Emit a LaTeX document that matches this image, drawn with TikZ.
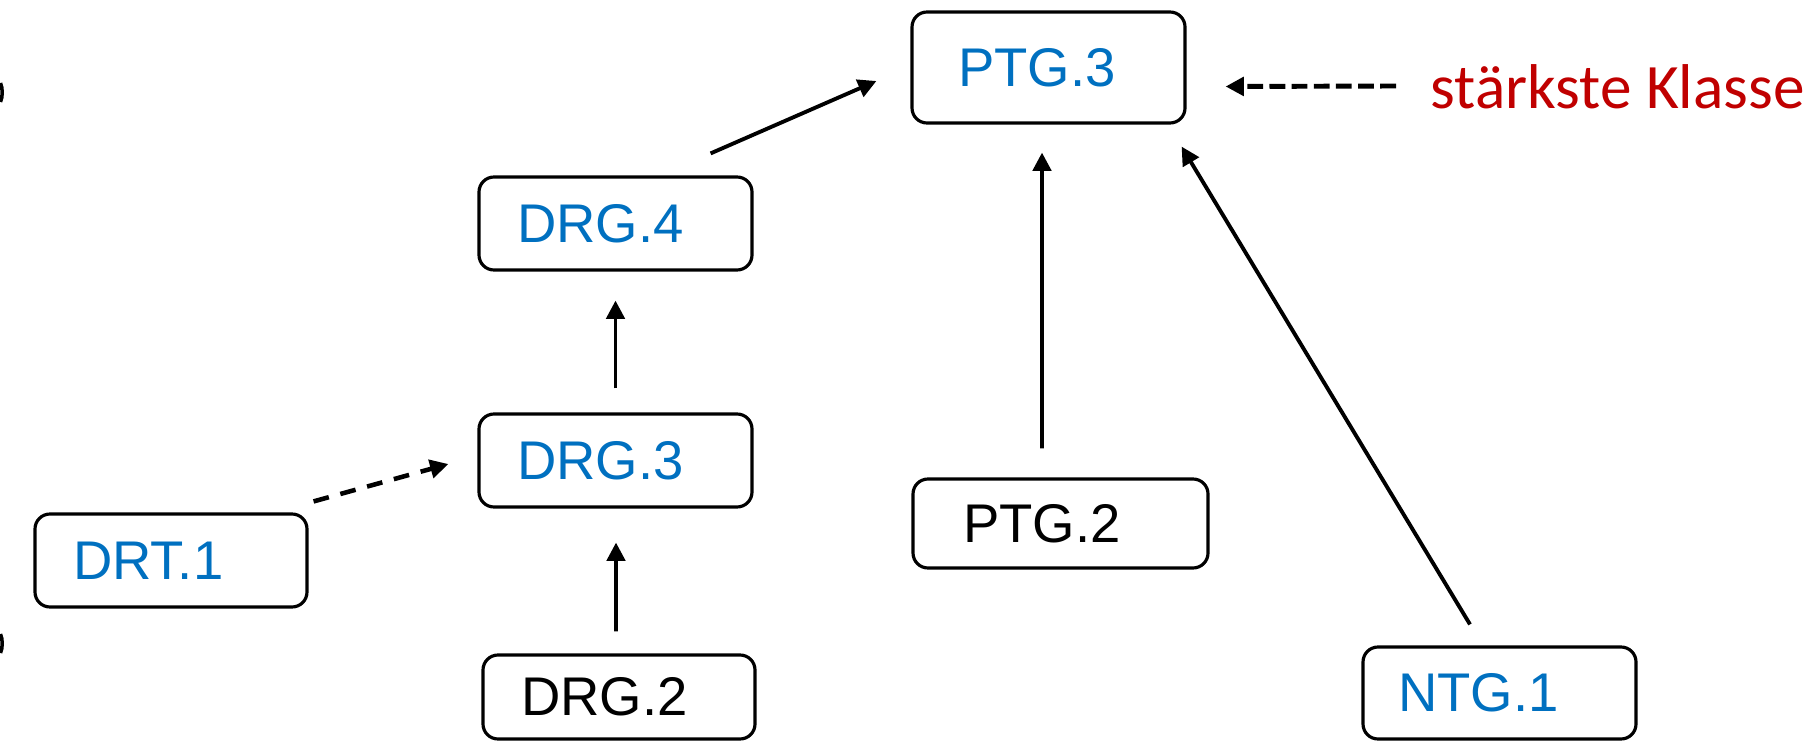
\documentclass[tikz,border=0pt]{standalone}
\usepackage{fontspec}
\setmainfont{Liberation Sans}
\newfontfamily\calibrifont{Carlito}
\usetikzlibrary{arrows.meta,positioning}

\begin{document}
\begin{tikzpicture}
\definecolor{klasseBlau}{RGB}{0, 112, 192}
			\definecolor{klasseRot}{RGB}{192, 0, 0}
			\tikzstyle{klasse}=[rectangle, rounded corners=0.15cm, draw, line width=0.9pt, minimum width=2.73cm, minimum height=0.93cm, inner xsep=0.38cm, text width=1.97cm, align=left, font=\fontsize{15.5}{18}\selectfont, text=klasseBlau]
			\tikzstyle{pfeil}=[-{Triangle[length=5.2pt, width=5.2pt]}, line width=1.1pt]

			\useasboundingbox (0,0) rectangle (18.19,7.5);

			\node [klasse, minimum height=1.11cm, inner xsep=0.46cm, text width=1.81cm] (PTG3) at (10.485,6.825) {PTG.3};
			\node [klasse] (DRG4) at (6.155,5.265) {DRG.4};
			\node [klasse] (DRG3) at (6.155,2.895) {DRG.3};
			\node [klasse, minimum width=2.72cm, text width=1.96cm] (DRT1) at (1.71,1.895) {DRT.1};
			\node [klasse, minimum width=2.72cm, minimum height=0.84cm, text width=1.96cm, text=black] (DRG2) at (6.19,0.53) {DRG.2};
			\node [klasse, minimum width=2.95cm, minimum height=0.89cm, inner xsep=0.5cm, text width=1.95cm, text=black] (PTG2) at (10.605,2.265) {PTG.2};
			\node [klasse, minimum height=0.92cm, inner xsep=0.35cm, text width=2.03cm] (NTG1) at (14.995,0.57) {NTG.1};

			\node [anchor=west, inner sep=0pt, text=klasseRot, font=\calibrifont\fontsize{18}{21}\selectfont] (staerkste) at (14.30,6.63) {stärkste Klasse};

			\path[pfeil]
			([shift={(-0.43,0.22)}]DRG4.north east) edge ([shift={(-0.34,-0.135)}]PTG3.west)
			([shift={(0,0.24)}]DRG3.north) edge ([shift={(0,-0.29)}]DRG4.south)
			([shift={(-0.03,0.22)}]DRG2.north) edge ([shift={(0.005,-0.34)}]DRG3.south)
			([shift={(0.05,0.11)}]DRT1.north east) edge[dash pattern=on 4.5pt off 3.4pt, line width=1.3pt] ([shift={(-0.29,-0.035)}]DRG3.west)
			([shift={(-0.185,0.29)}]PTG2.north) edge ([shift={(-0.065,-0.28)}]PTG3.south)
			([shift={(-0.295,0.21)}]NTG1.north) edge ([shift={(-0.05,-0.22)}]PTG3.south east)
			([shift={(-0.34,0.01)}]staerkste.west) edge[dash pattern=on 4.5pt off 1.8pt, line width=1.4pt] ([shift={(0.39,-0.19)}]PTG3.east);

			% Reste am linken Rand
			\draw[line width=1pt] (0.005,6.67) .. controls (0.028,6.62) and (0.028,6.53) .. (0.005,6.48);
			\draw[line width=1pt] (0.005,1.16) .. controls (0.028,1.11) and (0.028,1.02) .. (0.005,0.97);
		\end{tikzpicture}
\end{document}
